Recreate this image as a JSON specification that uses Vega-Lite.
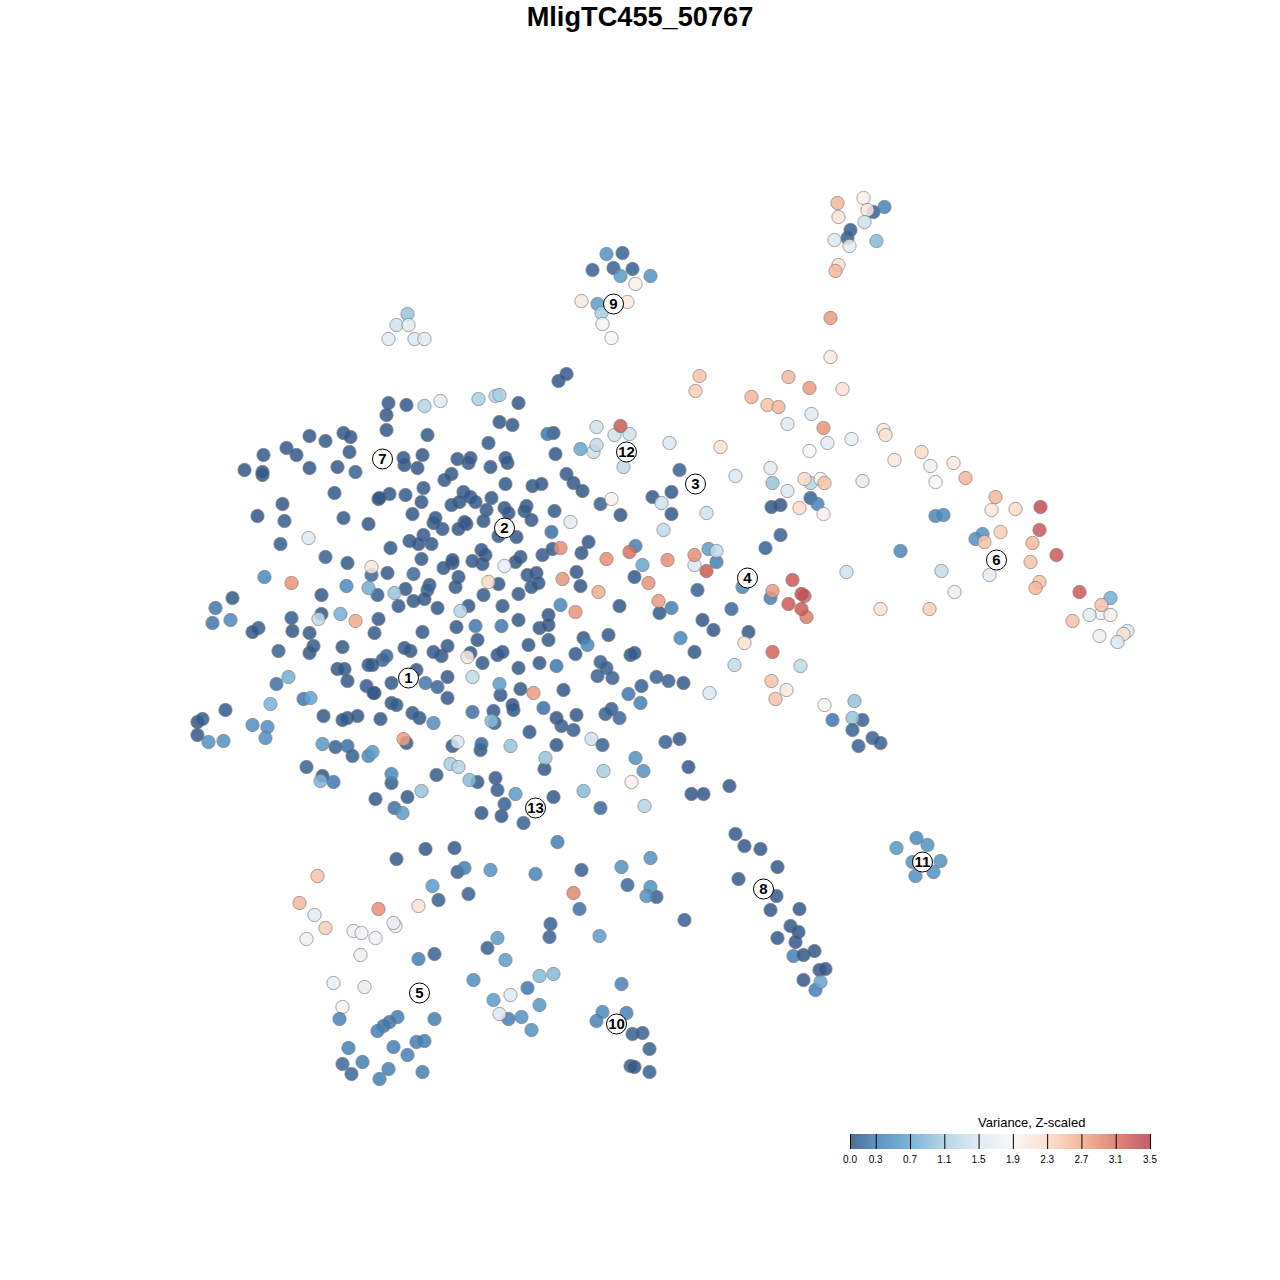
{"$schema":"https://vega.github.io/schema/vega-lite/v6.json","width":1280,"height":1280,"padding":0,"autosize":{"type":"none"},"background":"white","title":{"text":"MligTC455_50767","font":"Liberation Sans","fontSize":27.2,"fontWeight":"bold","color":"black","anchor":"middle","frame":"group","baseline":"top","offset":-32},"config":{"view":{"stroke":null}},"datasets":{"pts":[
{"x":309,"y":435,"v":0.05},{"x":325,"y":440,"v":0.05},{"x":343,"y":432,"v":0.05},{"x":350,"y":436,"v":0.05},{"x":349,"y":451,"v":0.05},{"x":263,"y":454,"v":0.05},{"x":286,"y":447,"v":0.05},{"x":296,"y":454,"v":0.05},{"x":244,"y":469,"v":0.05},{"x":262,"y":474,"v":0.05},{"x":262,"y":471,"v":0.05},{"x":309,"y":467,"v":0.05},{"x":337,"y":466,"v":0.05},{"x":355,"y":471,"v":0.1},{"x":334,"y":492,"v":0.05},{"x":378,"y":498,"v":0.05},{"x":282,"y":503,"v":0.05},{"x":257,"y":515,"v":0.05},{"x":284,"y":520,"v":0.08},{"x":343,"y":517,"v":0.05},{"x":368,"y":523,"v":0.05},{"x":308,"y":537,"v":1.55},{"x":280,"y":543,"v":0.08},{"x":325,"y":556,"v":0.1},{"x":347,"y":562,"v":0.05},{"x":371,"y":574,"v":0.15},{"x":371,"y":566,"v":2.1},{"x":264,"y":576,"v":0.4},{"x":291,"y":582,"v":2.85},{"x":346,"y":585,"v":0.4},{"x":377,"y":594,"v":0.08},{"x":368,"y":587,"v":0.8},{"x":321,"y":594,"v":0.05},{"x":232,"y":597,"v":0.05},{"x":215,"y":607,"v":0.25},{"x":212,"y":622,"v":0.25},{"x":230,"y":619,"v":0.4},{"x":291,"y":617,"v":0.08},{"x":321,"y":613,"v":0.05},{"x":318,"y":618,"v":1.3},{"x":340,"y":613,"v":0.8},{"x":355,"y":620,"v":2.7},
{"x":388,"y":402,"v":0.05},{"x":406,"y":404,"v":0.05},{"x":424,"y":405,"v":1.2},{"x":440,"y":400,"v":1.6},{"x":478,"y":398,"v":1.1},{"x":495,"y":395,"v":1.2},{"x":499,"y":394,"v":1.1},{"x":518,"y":402,"v":0.05},{"x":558,"y":380,"v":0.05},{"x":566,"y":373,"v":0.05},{"x":386,"y":414,"v":0.05},{"x":386,"y":429,"v":0.05},{"x":499,"y":421,"v":0.05},{"x":512,"y":424,"v":0.05},{"x":427,"y":434,"v":0.05},{"x":553,"y":432,"v":0.05},{"x":547,"y":433,"v":0.25},{"x":488,"y":442,"v":0.05},{"x":555,"y":453,"v":0.05},{"x":404,"y":464,"v":0.05},{"x":403,"y":457,"v":0.05},{"x":422,"y":454,"v":0.05},{"x":417,"y":467,"v":0.05},{"x":457,"y":458,"v":0.05},{"x":468,"y":462,"v":0.05},{"x":470,"y":457,"v":0.05},{"x":490,"y":466,"v":0.05},{"x":507,"y":462,"v":0.05},{"x":505,"y":457,"v":0.05},{"x":451,"y":473,"v":0.05},{"x":444,"y":479,"v":0.05},{"x":505,"y":483,"v":0.05},{"x":532,"y":485,"v":0.05},{"x":541,"y":483,"v":0.05},{"x":423,"y":487,"v":0.05},{"x":389,"y":493,"v":0.05},{"x":379,"y":497,"v":0.05},{"x":405,"y":494,"v":0.05},{"x":463,"y":491,"v":0.05},{"x":470,"y":496,"v":0.05},{"x":491,"y":497,"v":0.05},{"x":459,"y":501,"v":0.05},{"x":475,"y":501,"v":0.05},{"x":421,"y":501,"v":0.05},{"x":451,"y":504,"v":0.05},{"x":504,"y":507,"v":0.05},{"x":508,"y":512,"v":0.05},{"x":526,"y":505,"v":0.05},{"x":524,"y":510,"v":0.05},{"x":486,"y":509,"v":0.05},{"x":554,"y":510,"v":0.05},{"x":412,"y":513,"v":0.05},{"x":433,"y":522,"v":0.05},{"x":435,"y":517,"v":0.05},{"x":442,"y":528,"v":0.05},{"x":466,"y":523,"v":0.05},{"x":464,"y":521,"v":0.05},{"x":458,"y":528,"v":0.05},{"x":483,"y":520,"v":0.05},{"x":531,"y":519,"v":0.05},{"x":570,"y":521,"v":1.6},{"x":551,"y":531,"v":0.2},{"x":516,"y":536,"v":0.05},{"x":498,"y":535,"v":0.05},{"x":423,"y":534,"v":0.05},{"x":409,"y":540,"v":0.05},{"x":418,"y":543,"v":0.05},{"x":431,"y":543,"v":0.05},{"x":390,"y":547,"v":0.05},{"x":485,"y":554,"v":0.05},{"x":481,"y":549,"v":0.05},{"x":482,"y":563,"v":0.05},{"x":472,"y":560,"v":0.05},{"x":520,"y":556,"v":0.05},{"x":515,"y":561,"v":0.05},{"x":542,"y":554,"v":0.05},{"x":552,"y":548,"v":0.05},{"x":560,"y":547,"v":2.9},{"x":421,"y":558,"v":0.05},{"x":452,"y":562,"v":0.05},{"x":452,"y":559,"v":0.05},{"x":443,"y":567,"v":0.05},{"x":504,"y":565,"v":1.7},{"x":562,"y":578,"v":2.85},{"x":536,"y":572,"v":0.05},{"x":527,"y":574,"v":0.05},{"x":538,"y":582,"v":0.05},{"x":531,"y":586,"v":0.05},{"x":458,"y":576,"v":0.05},{"x":455,"y":586,"v":0.05},{"x":413,"y":573,"v":0.15},{"x":387,"y":572,"v":0.05},{"x":498,"y":583,"v":0.05},{"x":488,"y":581,"v":2.3},{"x":429,"y":584,"v":0.05},{"x":427,"y":589,"v":0.1},{"x":424,"y":598,"v":0.05},{"x":413,"y":600,"v":0.05},{"x":405,"y":588,"v":0.05},{"x":394,"y":592,"v":1.0},{"x":398,"y":605,"v":0.05},{"x":437,"y":607,"v":0.05},{"x":468,"y":605,"v":0.05},{"x":460,"y":610,"v":1.2},{"x":483,"y":594,"v":0.05},{"x":518,"y":593,"v":0.05},{"x":502,"y":605,"v":0.05},{"x":560,"y":604,"v":0.4},{"x":548,"y":614,"v":0.05},{"x":518,"y":619,"v":0.05},{"x":378,"y":618,"v":0.05},
{"x":374,"y":632,"v":0.05},{"x":422,"y":631,"v":0.05},{"x":456,"y":626,"v":0.05},{"x":475,"y":625,"v":0.25},{"x":501,"y":625,"v":0.25},{"x":539,"y":627,"v":0.05},{"x":548,"y":624,"v":0.05},{"x":548,"y":639,"v":0.05},{"x":528,"y":644,"v":0.05},{"x":477,"y":639,"v":0.05},{"x":410,"y":650,"v":0.05},{"x":404,"y":647,"v":0.05},{"x":441,"y":655,"v":0.05},{"x":433,"y":651,"v":0.05},{"x":447,"y":645,"v":0.05},{"x":382,"y":659,"v":0.12},{"x":386,"y":655,"v":0.15},{"x":372,"y":664,"v":0.05},{"x":470,"y":652,"v":0.05},{"x":467,"y":656,"v":2.1},{"x":482,"y":662,"v":0.05},{"x":497,"y":654,"v":0.05},{"x":502,"y":651,"v":0.05},{"x":518,"y":667,"v":0.05},{"x":539,"y":662,"v":0.05},{"x":556,"y":665,"v":0.25},{"x":416,"y":669,"v":0.05},{"x":472,"y":676,"v":1.3},{"x":447,"y":676,"v":0.05},{"x":391,"y":682,"v":0.05},{"x":425,"y":682,"v":0.25},{"x":437,"y":686,"v":0.12},{"x":500,"y":694,"v":0.05},{"x":499,"y":683,"v":0.6},{"x":520,"y":688,"v":0.05},{"x":533,"y":692,"v":2.8},{"x":563,"y":689,"v":0.05},{"x":447,"y":697,"v":0.05},{"x":374,"y":692,"v":0.05},{"x":391,"y":702,"v":0.05},{"x":396,"y":704,"v":0.08},{"x":513,"y":709,"v":0.05},{"x":512,"y":704,"v":0.05},{"x":543,"y":707,"v":0.2},{"x":419,"y":717,"v":0.05},{"x":412,"y":712,"v":0.08},{"x":472,"y":711,"v":0.2},{"x":493,"y":710,"v":0.05},{"x":494,"y":722,"v":0.1},{"x":491,"y":720,"v":0.9},{"x":433,"y":722,"v":0.45},{"x":380,"y":718,"v":0.05},{"x":556,"y":717,"v":0.05},{"x":561,"y":725,"v":0.08},{"x":573,"y":729,"v":0.08},{"x":529,"y":731,"v":0.05},{"x":406,"y":742,"v":0.08},{"x":403,"y":738,"v":2.8},{"x":452,"y":745,"v":0.05},{"x":457,"y":741,"v":1.5},{"x":480,"y":749,"v":0.05},{"x":481,"y":743,"v":0.15},{"x":510,"y":745,"v":1.0},{"x":556,"y":744,"v":0.05},{"x":544,"y":768,"v":0.05},{"x":545,"y":757,"v":1.0},{"x":450,"y":763,"v":1.1},{"x":458,"y":766,"v":1.2},{"x":436,"y":774,"v":0.08},{"x":391,"y":782,"v":0.08},{"x":391,"y":773,"v":0.4},{"x":477,"y":781,"v":0.05},{"x":469,"y":779,"v":0.9},{"x":495,"y":777,"v":0.05},{"x":497,"y":789,"v":0.08},{"x":421,"y":790,"v":1.0},{"x":515,"y":793,"v":0.6},{"x":407,"y":796,"v":0.05},{"x":375,"y":798,"v":0.05},{"x":553,"y":796,"v":0.05},{"x":394,"y":807,"v":0.2},{"x":402,"y":812,"v":0.6},{"x":504,"y":803,"v":0.1},{"x":481,"y":812,"v":0.05},{"x":501,"y":815,"v":0.05},{"x":523,"y":822,"v":0.1},{"x":557,"y":841,"v":0.3},{"x":425,"y":848,"v":0.05},{"x":454,"y":847,"v":0.05},
{"x":258,"y":627,"v":0.1},{"x":252,"y":631,"v":0.05},{"x":292,"y":630,"v":0.05},{"x":309,"y":632,"v":0.05},{"x":278,"y":650,"v":0.1},{"x":309,"y":652,"v":0.05},{"x":313,"y":645,"v":0.05},{"x":342,"y":646,"v":0.05},{"x":337,"y":668,"v":0.05},{"x":344,"y":668,"v":0.05},{"x":368,"y":664,"v":0.05},{"x":347,"y":680,"v":0.05},{"x":276,"y":683,"v":0.2},{"x":288,"y":676,"v":0.8},{"x":366,"y":685,"v":0.05},{"x":373,"y":692,"v":0.05},{"x":303,"y":698,"v":0.25},{"x":310,"y":697,"v":0.7},{"x":270,"y":703,"v":0.85},{"x":225,"y":709,"v":0.05},{"x":323,"y":715,"v":0.05},{"x":197,"y":721,"v":0.05},{"x":202,"y":718,"v":0.08},{"x":347,"y":717,"v":0.05},{"x":342,"y":719,"v":0.05},{"x":357,"y":715,"v":0.05},{"x":252,"y":724,"v":0.45},{"x":267,"y":726,"v":0.45},{"x":265,"y":737,"v":0.45},{"x":197,"y":734,"v":0.05},{"x":208,"y":741,"v":0.5},{"x":223,"y":740,"v":0.5},{"x":322,"y":743,"v":0.55},{"x":335,"y":746,"v":0.1},{"x":347,"y":745,"v":0.2},{"x":352,"y":755,"v":0.1},{"x":368,"y":755,"v":0.4},{"x":372,"y":751,"v":0.6},{"x":306,"y":766,"v":0.1},{"x":322,"y":775,"v":0.05},{"x":333,"y":781,"v":0.25},{"x":320,"y":780,"v":0.85},
{"x":596,"y":426,"v":1.4},{"x":614,"y":434,"v":1.4},{"x":629,"y":433,"v":1.4},{"x":620,"y":425,"v":3.3},{"x":593,"y":451,"v":1.4},{"x":596,"y":444,"v":1.3},{"x":580,"y":448,"v":0.7},{"x":623,"y":466,"v":1.3},{"x":669,"y":442,"v":1.5},{"x":720,"y":446,"v":2.2},{"x":679,"y":469,"v":0.1},{"x":735,"y":475,"v":1.5},{"x":566,"y":473,"v":0.05},{"x":573,"y":482,"v":0.05},{"x":582,"y":490,"v":0.05},{"x":652,"y":496,"v":0.05},{"x":671,"y":491,"v":0.05},{"x":661,"y":502,"v":1.4},{"x":600,"y":503,"v":0.1},{"x":611,"y":498,"v":1.95},{"x":671,"y":513,"v":0.05},{"x":620,"y":514,"v":0.05},{"x":706,"y":512,"v":1.4},{"x":663,"y":529,"v":1.3},{"x":780,"y":504,"v":0.05},{"x":771,"y":506,"v":0.05},{"x":799,"y":507,"v":2.3},{"x":770,"y":467,"v":1.6},{"x":772,"y":482,"v":1.0},{"x":787,"y":490,"v":1.5},{"x":810,"y":482,"v":1.2},{"x":820,"y":478,"v":1.95},{"x":804,"y":478,"v":2.3},{"x":824,"y":482,"v":2.5},{"x":810,"y":497,"v":0.1},{"x":817,"y":503,"v":0.35},{"x":823,"y":513,"v":2.0},{"x":811,"y":413,"v":1.6},{"x":787,"y":423,"v":1.6},{"x":823,"y":427,"v":2.85},{"x":809,"y":450,"v":1.9},{"x":827,"y":442,"v":1.6},{"x":767,"y":404,"v":2.5},{"x":778,"y":406,"v":2.6},{"x":751,"y":396,"v":2.6},{"x":765,"y":547,"v":0.1},{"x":780,"y":534,"v":0.1},{"x":588,"y":541,"v":0.05},{"x":581,"y":552,"v":0.05},{"x":606,"y":558,"v":2.9},{"x":635,"y":545,"v":0.3},{"x":629,"y":551,"v":3.1},{"x":642,"y":564,"v":0.7},{"x":667,"y":559,"v":2.9},{"x":694,"y":564,"v":1.5},{"x":694,"y":554,"v":2.9},{"x":708,"y":548,"v":0.6},{"x":716,"y":561,"v":0.3},{"x":716,"y":550,"v":1.3},{"x":706,"y":570,"v":3.3},{"x":576,"y":571,"v":0.05},{"x":580,"y":585,"v":0.05},{"x":634,"y":576,"v":0.05},{"x":648,"y":582,"v":2.85},{"x":598,"y":591,"v":2.7},{"x":697,"y":589,"v":0.1},{"x":659,"y":612,"v":0.05},{"x":671,"y":607,"v":0.3},{"x":658,"y":600,"v":2.8},{"x":619,"y":605,"v":0.05},{"x":575,"y":611,"v":2.85},{"x":731,"y":608,"v":0.15},{"x":742,"y":586,"v":0.4},{"x":792,"y":579,"v":3.3},{"x":770,"y":597,"v":0.3},{"x":772,"y":590,"v":2.8},{"x":804,"y":595,"v":3.2},{"x":801,"y":593,"v":3.4},{"x":788,"y":603,"v":3.3},{"x":806,"y":616,"v":3.0},{"x":801,"y":608,"v":3.3},{"x":702,"y":619,"v":0.05},{"x":713,"y":629,"v":0.05},{"x":748,"y":631,"v":0.05},{"x":744,"y":642,"v":2.2},{"x":680,"y":637,"v":0.4},{"x":608,"y":634,"v":0.05},{"x":583,"y":637,"v":0.05},{"x":587,"y":644,"v":0.4},{"x":694,"y":651,"v":0.05},{"x":772,"y":651,"v":3.2},
{"x":575,"y":653,"v":0.05},{"x":600,"y":661,"v":0.1},{"x":606,"y":667,"v":0.1},{"x":597,"y":675,"v":0.1},{"x":612,"y":677,"v":0.1},{"x":630,"y":654,"v":0.05},{"x":634,"y":652,"v":0.05},{"x":656,"y":676,"v":0.1},{"x":668,"y":680,"v":0.1},{"x":683,"y":682,"v":0.05},{"x":641,"y":685,"v":0.1},{"x":628,"y":693,"v":0.25},{"x":640,"y":702,"v":0.3},{"x":709,"y":692,"v":1.5},{"x":734,"y":664,"v":1.3},{"x":800,"y":665,"v":1.3},{"x":771,"y":680,"v":2.5},{"x":786,"y":689,"v":2.1},{"x":775,"y":698,"v":2.5},{"x":824,"y":704,"v":1.9},{"x":854,"y":700,"v":1.0},{"x":832,"y":719,"v":0.25},{"x":862,"y":719,"v":0.1},{"x":852,"y":717,"v":1.0},{"x":852,"y":729,"v":0.1},{"x":858,"y":745,"v":0.1},{"x":872,"y":737,"v":0.1},{"x":880,"y":742,"v":0.1},{"x":605,"y":713,"v":0.1},{"x":611,"y":708,"v":0.1},{"x":619,"y":717,"v":0.15},{"x":576,"y":714,"v":0.05},{"x":591,"y":738,"v":1.4},{"x":602,"y":744,"v":0.1},{"x":635,"y":757,"v":0.5},{"x":643,"y":770,"v":0.5},{"x":603,"y":770,"v":1.1},{"x":631,"y":781,"v":2.0},{"x":583,"y":790,"v":0.9},{"x":600,"y":807,"v":0.15},{"x":644,"y":805,"v":1.2},{"x":665,"y":741,"v":0.1},{"x":679,"y":738,"v":0.05},{"x":688,"y":766,"v":0.05},{"x":729,"y":785,"v":0.05},{"x":691,"y":793,"v":0.05},{"x":703,"y":793,"v":0.05},
{"x":735,"y":833,"v":0.05},{"x":744,"y":845,"v":0.05},{"x":760,"y":848,"v":0.05},{"x":777,"y":866,"v":0.05},{"x":738,"y":878,"v":0.05},{"x":770,"y":909,"v":0.05},{"x":799,"y":908,"v":0.05},{"x":776,"y":895,"v":0.05},{"x":790,"y":925,"v":0.05},{"x":798,"y":931,"v":0.05},{"x":777,"y":937,"v":0.05},{"x":795,"y":941,"v":0.05},{"x":793,"y":955,"v":0.3},{"x":803,"y":954,"v":0.05},{"x":814,"y":950,"v":0.05},{"x":819,"y":969,"v":0.05},{"x":825,"y":968,"v":0.05},{"x":803,"y":979,"v":0.05},{"x":815,"y":989,"v":0.3},{"x":820,"y":981,"v":0.7},
{"x":916,"y":837,"v":0.4},{"x":927,"y":844,"v":0.5},{"x":896,"y":847,"v":0.55},{"x":912,"y":861,"v":0.5},{"x":940,"y":860,"v":0.5},{"x":933,"y":871,"v":0.5},{"x":915,"y":875,"v":0.45},{"x":922,"y":861,"v":0.5},
{"x":396,"y":858,"v":0.05},{"x":457,"y":871,"v":0.1},{"x":464,"y":867,"v":0.3},{"x":490,"y":869,"v":0.5},{"x":535,"y":873,"v":0.35},{"x":581,"y":869,"v":0.1},{"x":621,"y":866,"v":0.5},{"x":650,"y":857,"v":0.5},{"x":627,"y":884,"v":0.15},{"x":656,"y":896,"v":0.1},{"x":650,"y":886,"v":0.5},{"x":646,"y":895,"v":0.5},{"x":432,"y":885,"v":0.6},{"x":468,"y":893,"v":0.1},{"x":438,"y":899,"v":0.1},{"x":573,"y":892,"v":2.95},{"x":579,"y":908,"v":0.2},{"x":684,"y":919,"v":0.1},{"x":550,"y":923,"v":0.1},{"x":549,"y":936,"v":0.1},{"x":599,"y":935,"v":0.6},{"x":497,"y":937,"v":0.6},{"x":487,"y":947,"v":0.1},{"x":434,"y":953,"v":0.1},{"x":418,"y":958,"v":0.3},{"x":505,"y":959,"v":0.6},{"x":553,"y":973,"v":0.9},{"x":539,"y":975,"v":0.9},{"x":473,"y":979,"v":0.45},{"x":527,"y":987,"v":0.25},{"x":621,"y":983,"v":0.35},{"x":493,"y":999,"v":0.6},{"x":510,"y":994,"v":1.5},{"x":539,"y":1004,"v":0.55},{"x":508,"y":1018,"v":0.3},{"x":499,"y":1013,"v":1.5},{"x":521,"y":1016,"v":0.5},{"x":531,"y":1029,"v":0.5},{"x":602,"y":1011,"v":0.4},{"x":626,"y":1012,"v":0.35},{"x":596,"y":1020,"v":0.35},{"x":616,"y":1023,"v":0.3},{"x":632,"y":1033,"v":0.1},{"x":642,"y":1032,"v":0.1},{"x":649,"y":1048,"v":0.1},{"x":630,"y":1065,"v":0.1},{"x":634,"y":1066,"v":0.05},{"x":649,"y":1071,"v":0.1},
{"x":317,"y":875,"v":2.5},{"x":299,"y":902,"v":2.6},{"x":314,"y":914,"v":1.6},{"x":378,"y":908,"v":2.9},{"x":418,"y":905,"v":2.2},{"x":325,"y":927,"v":2.4},{"x":306,"y":938,"v":1.8},{"x":353,"y":930,"v":1.8},{"x":361,"y":932,"v":1.8},{"x":375,"y":937,"v":1.8},{"x":395,"y":925,"v":1.8},{"x":393,"y":922,"v":1.7},{"x":360,"y":954,"v":1.7},{"x":333,"y":982,"v":1.7},{"x":364,"y":986,"v":1.7},{"x":342,"y":1006,"v":1.95},{"x":339,"y":1018,"v":0.35},{"x":397,"y":1016,"v":0.3},{"x":434,"y":1018,"v":0.3},{"x":389,"y":1021,"v":0.25},{"x":383,"y":1025,"v":0.25},{"x":377,"y":1030,"v":0.3},{"x":393,"y":1046,"v":0.3},{"x":416,"y":1041,"v":0.3},{"x":424,"y":1040,"v":0.3},{"x":407,"y":1054,"v":0.3},{"x":348,"y":1047,"v":0.3},{"x":362,"y":1061,"v":0.3},{"x":342,"y":1063,"v":0.15},{"x":351,"y":1073,"v":0.15},{"x":379,"y":1078,"v":0.3},{"x":388,"y":1068,"v":0.3},{"x":422,"y":1071,"v":0.3},
{"x":873,"y":211,"v":0.1},{"x":863,"y":197,"v":2.0},{"x":837,"y":202,"v":2.6},{"x":867,"y":209,"v":2.1},{"x":838,"y":216,"v":2.2},{"x":884,"y":206,"v":0.35},{"x":864,"y":221,"v":1.4},{"x":847,"y":237,"v":0.1},{"x":850,"y":229,"v":0.1},{"x":834,"y":239,"v":1.5},{"x":849,"y":245,"v":1.6},{"x":876,"y":240,"v":0.9},{"x":838,"y":264,"v":2.2},{"x":835,"y":270,"v":2.6},{"x":830,"y":317,"v":2.8},{"x":830,"y":356,"v":2.1},{"x":842,"y":388,"v":2.2},{"x":699,"y":375,"v":2.5},{"x":695,"y":390,"v":2.4},{"x":788,"y":376,"v":2.6},{"x":809,"y":387,"v":2.8},
{"x":851,"y":438,"v":1.7},{"x":883,"y":429,"v":2.1},{"x":885,"y":434,"v":2.2},{"x":894,"y":459,"v":2.1},{"x":921,"y":451,"v":2.3},{"x":930,"y":465,"v":1.8},{"x":953,"y":462,"v":2.1},{"x":935,"y":481,"v":1.9},{"x":965,"y":477,"v":2.6},{"x":862,"y":480,"v":1.6},{"x":995,"y":496,"v":2.6},{"x":1015,"y":508,"v":2.3},{"x":991,"y":509,"v":2.1},{"x":1040,"y":506,"v":3.4},{"x":935,"y":515,"v":0.4},{"x":943,"y":514,"v":0.4},{"x":1039,"y":529,"v":3.3},{"x":982,"y":533,"v":0.5},{"x":1000,"y":531,"v":2.4},{"x":975,"y":538,"v":0.5},{"x":984,"y":541,"v":2.5},{"x":1032,"y":542,"v":2.6},{"x":900,"y":550,"v":0.4},{"x":1056,"y":554,"v":3.3},{"x":1030,"y":561,"v":2.5},{"x":989,"y":574,"v":1.6},{"x":941,"y":570,"v":1.3},{"x":846,"y":571,"v":1.4},{"x":1039,"y":581,"v":2.5},{"x":1035,"y":587,"v":2.6},{"x":954,"y":591,"v":1.7},{"x":1079,"y":591,"v":3.3},{"x":1110,"y":597,"v":0.8},{"x":1101,"y":612,"v":1.8},{"x":1101,"y":604,"v":2.5},{"x":1110,"y":614,"v":2.0},{"x":1089,"y":614,"v":1.6},{"x":1072,"y":620,"v":2.5},{"x":880,"y":608,"v":2.2},{"x":929,"y":608,"v":2.4},{"x":1127,"y":630,"v":1.5},{"x":1123,"y":633,"v":2.2},{"x":1099,"y":635,"v":1.7},{"x":1117,"y":641,"v":1.5},
{"x":606,"y":253,"v":0.5},{"x":622,"y":252,"v":0.1},{"x":592,"y":269,"v":0.1},{"x":613,"y":267,"v":0.1},{"x":632,"y":268,"v":0.1},{"x":620,"y":275,"v":0.6},{"x":650,"y":275,"v":0.5},{"x":635,"y":283,"v":2.0},{"x":581,"y":300,"v":2.1},{"x":627,"y":301,"v":2.1},{"x":597,"y":303,"v":0.6},{"x":601,"y":312,"v":1.1},{"x":602,"y":323,"v":1.9},{"x":611,"y":337,"v":1.9},
{"x":407,"y":313,"v":1.0},{"x":396,"y":324,"v":1.4},{"x":408,"y":324,"v":1.6},{"x":388,"y":338,"v":1.6},{"x":414,"y":338,"v":1.5},{"x":424,"y":338,"v":1.6}
],"labs":[{"x":408,"y":677,"n":"1"},{"x":504,"y":527,"n":"2"},{"x":695,"y":483,"n":"3"},{"x":747,"y":577,"n":"4"},{"x":419,"y":992,"n":"5"},{"x":996,"y":559,"n":"6"},{"x":382,"y":458,"n":"7"},{"x":763,"y":888,"n":"8"},{"x":613,"y":303,"n":"9"},{"x":616,"y":1023,"n":"10"},{"x":922,"y":861,"n":"11"},{"x":626,"y":451,"n":"12"},{"x":535,"y":807,"n":"13"}],"ticks":[{"v":0.0},{"v":0.3},{"v":0.7},{"v":1.1},{"v":1.5},{"v":1.9},{"v":2.3},{"v":2.7},{"v":3.1},{"v":3.5}]},
"layer":[
{"data":{"name":"pts"},"mark":{"type":"point","filled":true,"shape":"circle","size":178,"opacity":0.85,"stroke":"#6e6e6e","strokeWidth":1,"strokeOpacity":0.7},"encoding":{"x":{"field":"x","type":"quantitative","scale":{"domain":[0,1280],"range":[0.5,1280.5]},"axis":null},"y":{"field":"y","type":"quantitative","scale":{"domain":[1280,0],"range":[1281,1]},"axis":null},"color":{"field":"v","type":"quantitative","scale":{"domain":[0,0.3,0.7,1.1,1.5,1.9,2.3,2.7,3.1,3.5],"range":["#2d5281","#437fb7","#63a6cf","#a6cfe3","#dbe8f1","#f6f6f6","#fddbc8","#f2ab8c","#da7260","#bd4052"]},"legend":{"title":null,"orient":"none","legendX":850,"legendY":1134,"direction":"horizontal","gradientLength":300,"gradientThickness":15,"gradientOpacity":0,"gradientStrokeWidth":0,"values":[0,0.3,0.7,1.1,1.5,1.9,2.3,2.7,3.1,3.5],"format":".1f","labelFont":"Liberation Sans","labelFontSize":10,"labelColor":"black","labelOffset":6,"labelOverlap":false,"padding":0,"encoding":{"labels":{"align":{"value":"center"},"update":{"align":{"value":"center"}}}}}}}},
{"data":{"name":"labs"},"mark":{"type":"point","filled":true,"shape":"circle","size":400,"fill":"white","opacity":1,"stroke":"black","strokeWidth":1},"encoding":{"x":{"field":"x","type":"quantitative","scale":{"domain":[0,1280],"range":[0.5,1280.5]},"axis":null},"y":{"field":"y","type":"quantitative","scale":{"domain":[1280,0],"range":[1281,1]},"axis":null}}},
{"data":{"name":"labs"},"mark":{"type":"text","font":"Liberation Sans","fontWeight":"bold","fontSize":15,"color":"black","align":"center","baseline":"middle"},"encoding":{"x":{"field":"x","type":"quantitative","scale":{"domain":[0,1280],"range":[0.5,1280.5]},"axis":null},"y":{"field":"y","type":"quantitative","scale":{"domain":[1280,0],"range":[1281,1]},"axis":null},"text":{"field":"n"}}},
{"data":{"values":[{"v":0,"v2":3.5}]},"mark":{"type":"rect","opacity":0.85,"fill":{"gradient":"linear","x1":0,"x2":1,"y1":0,"y2":0,"stops":[{"offset":0,"color":"#2d5281"},{"offset":0.0857,"color":"#437fb7"},{"offset":0.2,"color":"#63a6cf"},{"offset":0.3143,"color":"#a6cfe3"},{"offset":0.4286,"color":"#dbe8f1"},{"offset":0.5429,"color":"#f6f6f6"},{"offset":0.6571,"color":"#fddbc8"},{"offset":0.7714,"color":"#f2ab8c"},{"offset":0.8857,"color":"#da7260"},{"offset":1,"color":"#bd4052"}]}},"encoding":{"x":{"field":"v","type":"quantitative","scale":{"domain":[0,3.5],"range":[850,1150]},"axis":null},"x2":{"field":"v2"},"y":{"datum":0,"type":"quantitative","scale":{"domain":[0,1],"range":[1134,1149]},"axis":null},"y2":{"datum":1}}},
{"data":{"name":"ticks"},"mark":{"type":"rule","color":"black","strokeWidth":1},"encoding":{"x":{"field":"v","type":"quantitative","scale":{"domain":[0,3.5],"range":[850.5,1150.5]},"axis":null},"y":{"datum":0,"type":"quantitative","scale":{"domain":[0,1],"range":[1134,1149]},"axis":null},"y2":{"datum":1}}},
{"data":{"values":[{"v":2.12,"t":"Variance, Z-scaled"}]},"mark":{"type":"text","font":"Liberation Sans","fontSize":13,"color":"black","align":"center","baseline":"middle"},"encoding":{"x":{"field":"v","type":"quantitative","scale":{"domain":[0,3.5],"range":[850,1150]},"axis":null},"y":{"datum":0,"type":"quantitative","scale":{"domain":[0,1],"range":[1123,1149]},"axis":null},"text":{"field":"t"}}}
],"resolve":{"scale":{"x":"independent","y":"independent","color":"independent"}}}
